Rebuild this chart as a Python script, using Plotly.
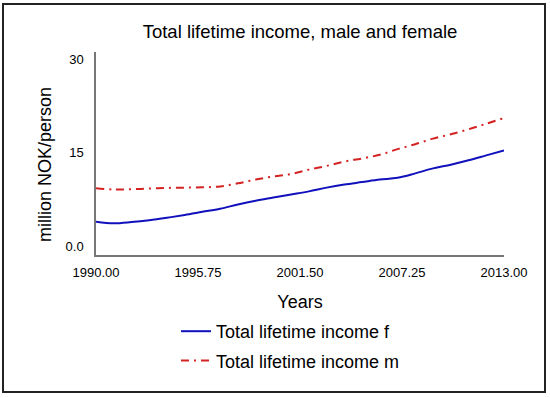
import plotly.graph_objects as go

years = list(range(1990, 2014))
income_f = [3.9, 3.65, 3.85, 4.15, 4.55, 5.0, 5.5, 6.0, 6.7, 7.3, 7.8, 8.3,
            8.8, 9.4, 9.9, 10.3, 10.7, 11.0, 11.7, 12.5, 13.1, 13.8, 14.6, 15.4]
income_m = [9.3, 9.1, 9.15, 9.25, 9.35, 9.4, 9.45, 9.6, 10.1, 10.7, 11.2, 11.6,
            12.3, 12.9, 13.6, 14.1, 14.7, 15.6, 16.4, 17.3, 18.0, 18.8, 19.7, 20.6]
x_ticks = [1990, 1995.75, 2001.5, 2007.25, 2013]
x_ticklabels = ["1990.00", "1995.75", "2001.50", "2007.25", "2013.00"]
y_ticks = [0, 15, 30]
y_ticklabels = ["0.0", "15", "30"]

FONT = "Liberation Sans, Arial, sans-serif"

fig = go.Figure()
fig.add_trace(go.Scatter(x=years, y=income_f, mode="lines", name="Total lifetime income f",
                         line=dict(color="#1010bc", width=2, shape="spline"),
                         legendgroup="f"))
fig.add_trace(go.Scatter(x=years, y=income_m, mode="lines", name="Total lifetime income m",
                         line=dict(color="#d42222", width=2, dash="8px,5px,2px,5px", shape="spline"),
                         legendgroup="m"))

L, R, T, B = 96, 46, 52, 143
W, H = 550, 398
pw, ph = W - L - R, H - T - B

def px_x(p):
    return (p - L) / pw

def px_y(p):
    return (H - B - p) / ph

fig.update_layout(
    width=W, height=H,
    margin=dict(l=L, r=R, t=T, b=B),
    paper_bgcolor="white", plot_bgcolor="white",
    font=dict(family=FONT, color="black", size=13),
    title=dict(text="Total lifetime income, male and female", x=px_x(300), xanchor="center",
               y=1 - 32 / H, yanchor="middle", xref="paper",
               font=dict(size=18.5, family=FONT, color="black")),
    showlegend=True,
    legend=dict(x=px_x(176), xanchor="left", y=px_y(313), yanchor="top",
                font=dict(size=18, family=FONT, color="black"),
                bgcolor="rgba(0,0,0,0)", tracegroupgap=3, itemwidth=30),
    xaxis=dict(range=[1990, 2013], tickmode="array", tickvals=x_ticks, ticktext=x_ticklabels,
               showgrid=False, zeroline=False, showline=True, linecolor="#777777", linewidth=1.5,
               ticks="", ticklabelstandoff=5, tickfont=dict(size=13),
               title=dict(text="Years", font=dict(size=18), standoff=16)),
    yaxis=dict(range=[-1.45, 31.25], tickmode="array", tickvals=y_ticks, ticktext=y_ticklabels,
               showgrid=False, zeroline=False, showline=True, linecolor="#777777", linewidth=1.5,
               ticks="", ticklabelstandoff=8, tickfont=dict(size=13)),
)

fig.add_annotation(text="million NOK/person", xref="paper", yref="paper",
                   x=px_x(45), y=px_y(165), xanchor="center", yanchor="middle",
                   textangle=-90, showarrow=False, font=dict(size=18, family=FONT, color="black"))

fig.add_shape(type="rect", xref="paper", yref="paper",
              x0=px_x(3), x1=px_x(545), y0=px_y(392), y1=px_y(4),
              line=dict(color="#222222", width=2), fillcolor="rgba(0,0,0,0)")

fig.write_html("out.html", config={"displayModeBar": False},
               post_script="document.body.style.margin='0';document.body.style.overflow='hidden';")
